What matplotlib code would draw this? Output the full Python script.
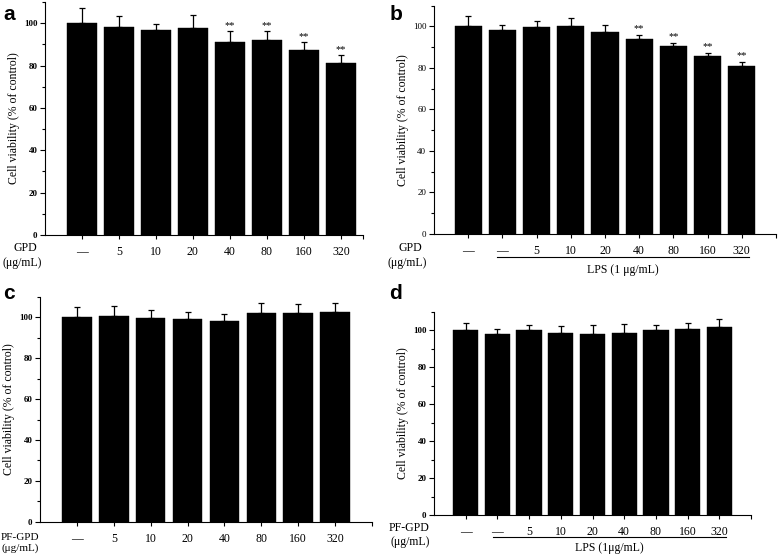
import matplotlib
matplotlib.use("Agg")
import matplotlib.pyplot as plt
import matplotlib.transforms as mtransforms
import numpy as np
from matplotlib.ticker import MultipleLocator

# Datos (viabilidad celular, % del control)
labels_a = ["\u2014", "5", "10", "20", "40", "80", "160", "320"]
means_a = [100.3, 98.1, 96.7, 97.5, 90.9, 91.9, 87.5, 81.4]
errs_a = [6.8, 5.2, 3.0, 6.5, 5.2, 4.2, 3.4, 3.4]
sig_a = ["", "", "", "", "**", "**", "**", "**"]

labels_b = ["\u2014", "\u2014", "5", "10", "20", "40", "80", "160", "320"]
means_b = [100.2, 98.1, 99.8, 100.3, 97.4, 94.1, 90.5, 85.7, 80.8]
errs_b = [4.8, 2.7, 2.9, 3.9, 3.4, 1.6, 1.6, 1.5, 1.9]
sig_b = ["", "", "", "", "", "**", "**", "**", "**"]

labels_c = ["\u2014", "5", "10", "20", "40", "80", "160", "320"]
means_c = [100.0, 100.7, 99.5, 99.3, 98.4, 102.3, 102.1, 102.6]
errs_c = [4.9, 4.8, 3.9, 3.6, 3.5, 5.0, 4.4, 4.6]

labels_d = ["\u2014", "\u2014", "5", "10", "20", "40", "80", "160", "320"]
means_d = [100.0, 98.0, 100.0, 98.4, 98.2, 98.4, 100.0, 100.9, 102.0]
errs_d = [3.8, 2.7, 3.1, 4.0, 4.7, 5.0, 3.1, 3.1, 4.3]

W, H = 778, 556
SERIF = ["Liberation Serif", "DejaVu Serif"]
plt.rcParams["font.family"] = SERIF

fig = plt.figure(figsize=(W / 100, H / 100), dpi=100)


def px_axes(left, right, top, bottom):
    return fig.add_axes([left / W, 1 - bottom / H, (right - left) / W, (bottom - top) / H])


def fig_text(x, y, s, size=8.5, **kw):
    fig.text(x / W, 1 - y / H, s, ha="center", va="center", fontsize=size, **kw)


def draw_panel(ax, labels, means, errs, xmax, sig=None, bold_y=True):
    x = np.arange(1, len(means) + 1)
    ax.bar(x, means, width=0.8, color="black", edgecolor="black", linewidth=0.3)
    ax.errorbar(x, means, yerr=[np.zeros(len(errs)), errs], fmt="none",
                ecolor="black", elinewidth=0.9, capsize=2.5, capthick=0.9)
    if sig:
        for xi, m, e, s in zip(x, means, errs, sig):
            if s:
                ax.text(xi, m + e + 0.8, s, ha="center", va="bottom", fontsize=7.5)
    ax.set_xlim(0, xmax)
    ax.set_ylim(0, 110)
    ax.set_xticks(x, labels)
    ax.set_xticks([xmax], minor=True)
    ax.yaxis.set_major_locator(MultipleLocator(20))
    ax.yaxis.set_minor_locator(MultipleLocator(10))
    ax.tick_params(axis="x", which="major", length=3, width=0.8, labelsize=8.5, pad=5)
    ax.tick_params(axis="x", which="minor", length=3, width=0.8)
    ax.tick_params(axis="y", which="major", length=3.5, width=0.8, labelsize=6.5, pad=2)
    ax.tick_params(axis="y", which="minor", length=2, width=0.8)
    if bold_y:
        for t in ax.get_yticklabels():
            t.set_fontweight("bold")
    for side in ("top", "right"):
        ax.spines[side].set_visible(False)
    for side in ("left", "bottom"):
        ax.spines[side].set_linewidth(0.8)
    ax.set_ylabel("Cell viability (% of control)", fontsize=8.5, labelpad=3)


def lps_bar(ax, text, drop_px, text_px):
    # línea horizontal bajo los tratamientos con LPS
    base = mtransforms.blended_transform_factory(ax.transData, ax.transAxes)
    tr_line = base + mtransforms.ScaledTranslation(0, -drop_px / 100, fig.dpi_scale_trans)
    tr_text = base + mtransforms.ScaledTranslation(0, -text_px / 100, fig.dpi_scale_trans)
    ax.plot([1.85, 9.2], [0, 0], color="black", lw=0.8, transform=tr_line, clip_on=False)
    ax.text((1.85 + 9.2) / 2, 0, text, transform=tr_text, ha="center", va="center",
            fontsize=8.5)


ax_a = px_axes(45, 363, 2, 235)
draw_panel(ax_a, labels_a, means_a, errs_a, 8.6, sig=sig_a)

ax_b = px_axes(434, 776, 5.5, 234)
draw_panel(ax_b, labels_b, means_b, errs_b, 10, sig=sig_b, bold_y=False)
lps_bar(ax_b, "LPS (1 \u03bcg/mL)", 23, 36)

ax_c = px_axes(40, 372, 297, 521.7)
draw_panel(ax_c, labels_c, means_c, errs_c, 9)

ax_d = px_axes(434, 751, 312, 515)
draw_panel(ax_d, labels_d, means_d, errs_d, 10)
lps_bar(ax_d, "LPS (1\u03bcg/mL)", 22, 33)

# etiquetas de grupo a la izquierda del eje X
fig_text(25, 248, "GPD")
fig_text(22, 263, "(\u03bcg/mL)")
fig_text(410, 248, "GPD")
fig_text(407, 263, "(\u03bcg/mL)")
fig_text(20, 537, "PF-GPD", size=8)
fig_text(20, 548, "(\u03bcg/mL)", size=8)
fig_text(409, 528, "PF-GPD")
fig_text(410, 542, "(\u03bcg/mL)")

# letras de panel
for x, y, s in [(9, 14, "a"), (396, 14, "b"), (9, 293, "c"), (396, 293, "d")]:
    fig.text(x / W, 1 - y / H, s, ha="center", va="center", fontsize=15,
             fontweight="bold", family=["Liberation Sans", "DejaVu Sans"])

fig.savefig("out.png", dpi=100)
